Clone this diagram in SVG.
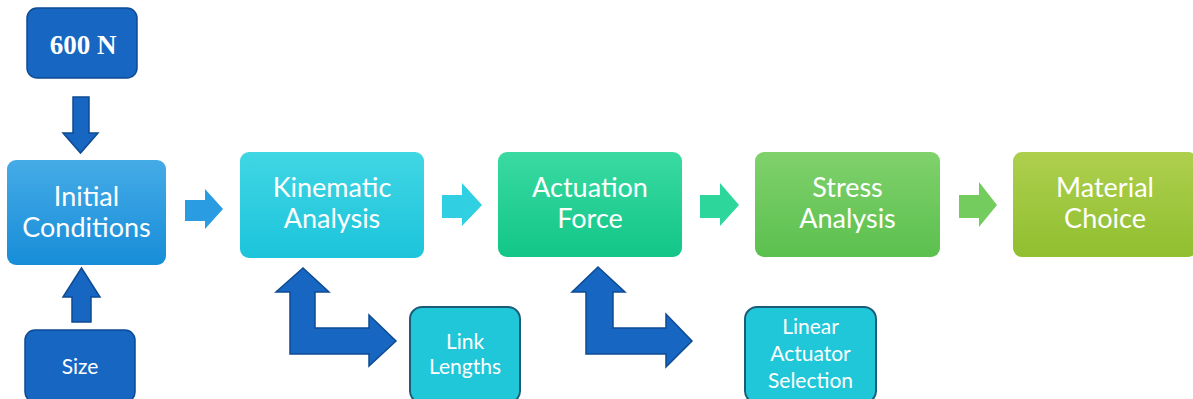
<svg xmlns="http://www.w3.org/2000/svg" width="1193" height="399" viewBox="0 0 1193 399">
<defs>
<linearGradient id="gBlue" x1="0" y1="0" x2="0" y2="1"><stop offset="0" stop-color="#45abe7"/><stop offset="1" stop-color="#178dd8"/></linearGradient>
<linearGradient id="gCyan" x1="0" y1="0" x2="0" y2="1"><stop offset="0" stop-color="#40d6e4"/><stop offset="1" stop-color="#1cc4db"/></linearGradient>
<linearGradient id="gTeal" x1="0" y1="0" x2="0" y2="1"><stop offset="0" stop-color="#3adaa2"/><stop offset="1" stop-color="#12c688"/></linearGradient>
<linearGradient id="gGreen" x1="0" y1="0" x2="0" y2="1"><stop offset="0" stop-color="#80d16c"/><stop offset="1" stop-color="#5bc04e"/></linearGradient>
<linearGradient id="gLime" x1="0" y1="0" x2="0" y2="1"><stop offset="0" stop-color="#aecf4e"/><stop offset="1" stop-color="#90bf30"/></linearGradient>
</defs>
<style>
.lbl{font-family:Lato,"Open Sans",sans-serif;fill:#ffffff;text-anchor:middle;font-size:27px}
.sm{font-size:21px}
.dark{fill:#1666c2;stroke:#0e4b92;stroke-width:1.5}
.sub{fill:#1fc7d8;stroke:#1b5c78;stroke-width:2}
</style>
<g id="connectors">
<path class="dark" d="M73,97 H89 V133 H98 L80.5,153 L63,133 H73 Z"/>
<path class="dark" d="M72,322 H91 V297 H100 L81.5,268 L63,297 H72 Z"/>
<path fill="#2a9de2" d="M185,200 H205 V189 L223,209 L205,229 V221 H185 Z"/>
<path fill="#30cfe1" d="M442,195 H462 V183 L482,205 L462,226 V218 H442 Z"/>
<path fill="#2dd79c" d="M700,195 H720 V183 L739,205 L720,226 V218 H700 Z"/>
<path fill="#74cc5f" d="M959,195 H979 V182 L997,205 L979,227 V218 H959 Z"/>
<path class="dark" d="M290,354 H369 V366 L396,341 L369,315 V328 H315 V292 H329 L303,268 L276,292 H290 Z"/>
<path class="dark" d="M586,354 H666 V367 L692,341 L666,314 V328 H613 V292 H625 L598,267 L572,292 H586 Z"/>
</g>
<g id="n600">
<rect class="dark" x="27" y="8" width="110" height="70" rx="10"/>
<text x="83" y="54" style="font-family:'Liberation Serif',serif;font-weight:bold;font-size:27px;fill:#fff;text-anchor:middle">600 N</text>
</g>
<g id="initial">
<rect x="7" y="160" width="159" height="105" rx="9" fill="url(#gBlue)"/>
<text class="lbl" x="86.5" y="206">Initial</text>
<text class="lbl" x="86.5" y="237">Conditions</text>
</g>
<g id="size">
<rect class="dark" x="25" y="330" width="110" height="72" rx="10"/>
<text class="lbl sm" x="80" y="374">Size</text>
</g>
<g id="kinematic">
<rect x="240" y="152" width="184" height="106" rx="9" fill="url(#gCyan)"/>
<text class="lbl" x="332" y="197">Kinematic</text>
<text class="lbl" x="332" y="228">Analysis</text>
</g>
<g id="actuation">
<rect x="498" y="152" width="184" height="105" rx="9" fill="url(#gTeal)"/>
<text class="lbl" x="590" y="197">Actuation</text>
<text class="lbl" x="590" y="228">Force</text>
</g>
<g id="stress">
<rect x="755" y="152" width="185" height="105" rx="9" fill="url(#gGreen)"/>
<text class="lbl" x="847.5" y="197">Stress</text>
<text class="lbl" x="847.5" y="228">Analysis</text>
</g>
<g id="material">
<rect x="1013" y="152" width="184" height="105" rx="9" fill="url(#gLime)"/>
<text class="lbl" x="1105" y="197">Material</text>
<text class="lbl" x="1105" y="228">Choice</text>
</g>
<g id="linklengths">
<rect class="sub" x="410" y="307" width="110" height="96" rx="12"/>
<text class="lbl sm" x="465" y="349">Link</text>
<text class="lbl sm" x="465" y="374">Lengths</text>
</g>
<g id="linearactuator">
<rect class="sub" x="745" y="307" width="131" height="96" rx="12"/>
<text class="lbl sm" x="810.5" y="334">Linear</text>
<text class="lbl sm" x="810.5" y="361">Actuator</text>
<text class="lbl sm" x="810.5" y="388">Selection</text>
</g>
</svg>
